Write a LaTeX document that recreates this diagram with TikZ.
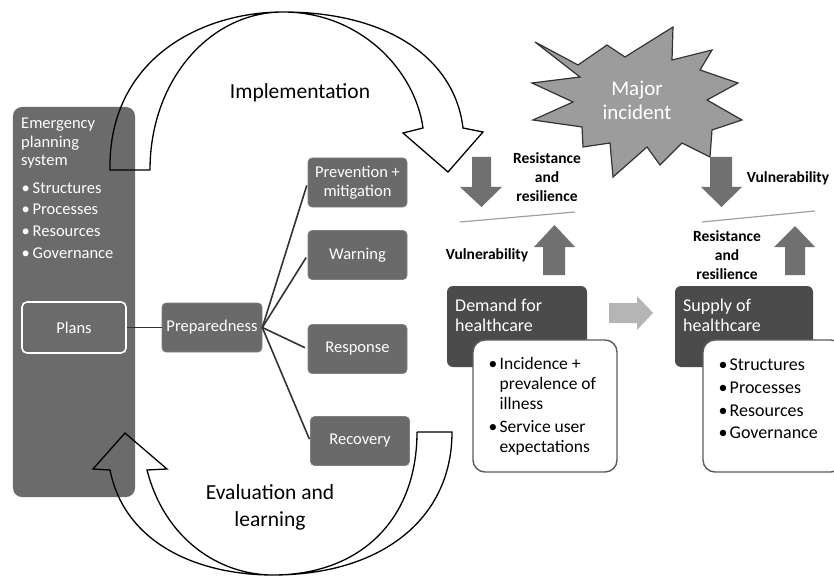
\documentclass[tikz,border=0pt]{standalone}
\usepackage{fontspec}
\setmainfont{Carlito}
\definecolor{panelgray}{HTML}{6B6B6B}
\definecolor{boxgray}{HTML}{6A6A6A}
\definecolor{darkbox}{HTML}{4B4B4B}
\definecolor{arrowgray}{HTML}{707070}
\definecolor{stargray}{HTML}{9C9C9C}
\definecolor{lightarrow}{HTML}{B5B5B5}
\definecolor{linegray}{HTML}{A0A0A0}
\definecolor{edgegray}{HTML}{333333}
\newcommand\bulitem{\makebox[11bp][l]{•}}
\newcommand\bulcont{\hspace*{11bp}}
\tikzset{
  panel/.style={fill=panelgray, rounded corners=9bp, inner sep=0pt},
  gbox/.style={fill=boxgray, draw=boxgray!85!white, line width=0.6bp, rounded corners=4bp,
    text=white, font=\fontsize{16.5bp}{19bp}\selectfont, align=center, inner sep=0pt,
    minimum width=99bp, minimum height=49bp},
  dbox/.style={fill=darkbox, rounded corners=6bp, inner sep=0pt},
  wbox/.style={fill=white, draw=edgegray!80!white, line width=1.4bp, rounded corners=12bp, inner sep=0pt},
  link/.style={draw=edgegray, line width=1.6bp},
  bigarrow/.style={draw=black, line width=1.3bp, line join=miter},
  blockarrow/.style={fill=arrowgray},
  lbl/.style={font=\fontsize{15.5bp}{19bp}\selectfont\bfseries, align=center, inner sep=0pt},
  wtext/.style={text=white, align=left, inner sep=0pt, anchor=west},
  btext/.style={text=black, align=left, inner sep=0pt, anchor=west},
  bigtext/.style={font=\fontsize{21.5bp}{27bp}\selectfont, align=center, inner sep=0pt}
}
\begin{document}
\begin{tikzpicture}[x=1bp,y=-1bp]
\useasboundingbox (0,0) rectangle (834,577);
\fill[white] (0,0) rectangle (834,577);

% left panel
\node[panel, minimum width=122bp, minimum height=390bp] (eps) at (74,302) {};
\node[wtext, font=\fontsize{16.5bp}{18.5bp}\selectfont] (epst) at (21,143.5) {Emergency\\planning\\system};
\node[wtext, font=\fontsize{16.5bp}{21.7bp}\selectfont] (epsb) at (21.5,220.5)
  {\bulitem Structures\\\bulitem Processes\\\bulitem Resources\\\bulitem Governance};
\node[gbox, fill=panelgray, draw=white, line width=1.6bp, rounded corners=5bp,
  minimum width=104bp, minimum height=51bp] (plans) at (74,327.5) {Plans};

% middle boxes
\node[gbox, minimum width=100bp] (prep) at (212,327.5) {Preparedness};
\node[gbox] (prev) at (357.5,182.5) {Prevention +\\mitigation};
\node[gbox] (warn) at (357.5,255) {Warning};
\node[gbox] (resp) at (357.5,349) {Response};
\node[gbox] (recov) at (360,441) {Recovery};

\draw[link] (plans.east) -- (prep.west);
\draw[link, shorten >=3bp] (prep.east) -- (prev.west);
\draw[link, shorten >=3bp] (prep.east) -- (warn.west);
\draw[link, shorten >=3bp] (prep.east) -- (resp.west);
\draw[link, shorten >=2bp] (prep.east) -- (recov.west);

% implementation arrow (top)
\draw[bigarrow] (150,170) -- (110,170)
  .. controls (108,60) and (200,12) .. (283,12)
  .. controls (360,12) and (415,70) .. (423,128)
  -- (403,133) -- (448,172) -- (483,132) -- (463,128)
  .. controls (455,60) and (390,12) .. (283,12)
  .. controls (210,12) and (150,80) .. (150,170);
\node[bigtext] (impl) at (300,93) {Implementation};

% evaluation arrow (bottom)
\draw[bigarrow] (417,432) -- (452,432)
  .. controls (452,520) and (380,575) .. (273,575)
  .. controls (220,575) and (165,540) .. (147,470)
  -- (167,469) -- (125,433) -- (93,469) -- (110,470)
  .. controls (125,545) and (200,575) .. (273,575)
  .. controls (360,575) and (417,520) .. (417,432);
\node[bigtext] (evl) at (270,507) {Evaluation and\\learning};

% star
\draw[fill=stargray, draw=edgegray, line width=1.2bp, line join=miter]
  (535,42) -- (578,65) -- (607,45) -- (625,57) -- (673,27) -- (672,60)
  -- (712,50) -- (700,70) -- (738,83) -- (707,100) -- (742,120) -- (712,130)
  -- (710,157) -- (682,143) -- (660,165) -- (647,147) -- (613,177) -- (610,143)
  -- (583,147) -- (582,127) -- (533,120) -- (573,102) -- (532,83) -- (580,77) -- cycle;
\node[bigtext, font=\fontsize{21bp}{24bp}\selectfont, text=white] (major) at (637,100) {Major\\incident};

% left balance
\fill[blockarrow] (472,157) -- (491,157) -- (491,187) -- (502,187) -- (481.5,207) -- (460,187) -- (472,187) -- cycle;
\fill[blockarrow] (543,275) -- (565,275) -- (565,247) -- (575,247) -- (554.5,225) -- (534,247) -- (543,247) -- cycle;
\draw[draw=linegray, line width=1.2bp] (460,222) -- (575,212);
\node[lbl] (rr1) at (547,177) {Resistance\\and\\resilience};
\node[lbl] (vul1) at (487,255) {Vulnerability};

% right balance
\fill[blockarrow] (710,157) -- (732,157) -- (732,187) -- (742,187) -- (721.5,207) -- (701,187) -- (710,187) -- cycle;
\fill[blockarrow] (785,275) -- (805,275) -- (805,247) -- (815,247) -- (795,226) -- (774,247) -- (785,247) -- cycle;
\draw[draw=linegray, line width=1.2bp] (702,222) -- (815,211);
\node[lbl] (vul2) at (788,178) {Vulnerability};
\node[lbl] (rr2) at (727,255) {Resistance\\and\\resilience};

% demand
\node[dbox, minimum width=140bp, minimum height=81bp] (dem) at (517,326.5) {};
\node[wtext, font=\fontsize{18bp}{20bp}\selectfont] (demt) at (455,315) {Demand for\\healthcare};
\node[wbox, minimum width=144bp, minimum height=132bp] (demb) at (545,406) {};
\node[btext, font=\fontsize{17.5bp}{20bp}\selectfont] (dembt) at (488.5,406.5)
  {\bulitem Incidence +\\\bulcont prevalence of\\\bulcont illness\\[3bp]\bulitem Service user\\\bulcont expectations};

% arrow between
\fill[lightarrow] (609,303) -- (637,303) -- (637,296) -- (653,313) -- (637,330) -- (637,323) -- (609,323) -- cycle;

% supply
\node[dbox, minimum width=138bp, minimum height=81bp] (sup) at (744,326.5) {};
\node[wtext, font=\fontsize{18bp}{20bp}\selectfont] (supt) at (683,315) {Supply of\\healthcare};
\node[wbox, minimum width=140bp, minimum height=132bp] (supb) at (773,406) {};
\node[btext, font=\fontsize{18bp}{22.7bp}\selectfont] (supbt) at (718.5,399)
  {\bulitem Structures\\\bulitem Processes\\\bulitem Resources\\\bulitem Governance};
\end{tikzpicture}
\end{document}
